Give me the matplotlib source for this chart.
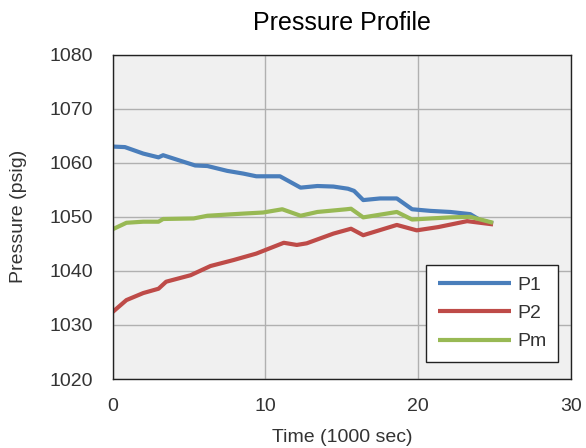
import matplotlib
matplotlib.use('Agg')
import matplotlib.pyplot as plt

# values (time in 1000 s, pressure in psig)
t_p1 = [0, 0.8, 2.0, 3.0, 3.3, 4.4, 5.4, 6.2, 7.5, 8.55, 9.4, 10.95, 11.4, 12.3,
        13.4, 14.45, 15.4, 15.8, 16.4, 17.5, 18.6, 19.6, 20.8, 22.1, 23.4, 24.05, 24.9]
p1 = [1063.0, 1062.9, 1061.7, 1061.0, 1061.4, 1060.4, 1059.5, 1059.4, 1058.5, 1058.0,
      1057.5, 1057.5, 1056.8, 1055.4, 1055.7, 1055.6, 1055.2, 1054.8, 1053.1, 1053.4,
      1053.4, 1051.4, 1051.1, 1050.9, 1050.5, 1049.4, 1048.8]

t_p2 = [0, 0.9, 2.0, 3.0, 3.5, 5.1, 6.4, 7.9, 9.4, 11.2, 12.05, 12.7, 14.45, 15.6,
        16.4, 18.6, 19.9, 21.3, 23.2, 24.9]
p2 = [1032.4, 1034.6, 1035.9, 1036.7, 1038.0, 1039.2, 1040.9, 1042.0, 1043.2, 1045.2,
      1044.8, 1045.1, 1046.9, 1047.8, 1046.6, 1048.5, 1047.5, 1048.1, 1049.2, 1048.6]

t_pm = [0, 0.9, 2.0, 3.0, 3.3, 5.3, 6.2, 8.55, 9.85, 11.1, 12.3, 13.4, 15.3, 15.6,
        16.4, 18.6, 19.6, 20.8, 22.1, 23.4, 24.9]
pm = [1047.7, 1048.9, 1049.1, 1049.1, 1049.6, 1049.7, 1050.2, 1050.6, 1050.8, 1051.4,
      1050.2, 1050.9, 1051.4, 1051.5, 1049.9, 1050.9, 1049.5, 1049.7, 1049.9, 1050.0, 1048.9]

plt.rcParams['font.family'] = ['Liberation Sans', 'DejaVu Sans']

fig = plt.figure(figsize=(5.86, 4.48), dpi=100)
ax = fig.add_axes([0.1923, 0.154, 0.7821, 0.724])
ax.set_facecolor('#f0f0f0')

ax.plot(t_p1, p1, color='#4a7ebb', lw=3, label='P1', solid_capstyle='butt')
ax.plot(t_p2, p2, color='#be4b48', lw=3, label='P2', solid_capstyle='butt')
ax.plot(t_pm, pm, color='#98b954', lw=3, label='Pm', solid_capstyle='butt')

ax.set_xlim(0, 30)
ax.set_ylim(1020, 1080)
ax.set_xticks([0, 10, 20, 30])
ax.set_yticks(range(1020, 1081, 10))
ax.grid(True, color='#b0b0b0', lw=1)
ax.set_axisbelow(True)
ax.tick_params(length=0, pad=14, labelsize=14, labelcolor='#333333')
for s in ax.spines.values():
    s.set_color('#222222')
    s.set_linewidth(1)

ax.set_title('Pressure Profile', fontsize=18, pad=18)
ax.set_xlabel('Time (1000 sec)', fontsize=14, color='#333333', labelpad=10)
ax.set_ylabel('Pressure (psig)', fontsize=14, color='#333333', labelpad=16)

leg = ax.legend(loc='lower right', bbox_to_anchor=(0.972, 0.052), fontsize=14,
                fancybox=False, framealpha=1, edgecolor='#222222',
                handlelength=3.8, handletextpad=0.3, labelspacing=0.55,
                borderpad=0.6, borderaxespad=0)
leg.get_frame().set_linewidth(1)
for txt in leg.get_texts():
    txt.set_color('#333333')

fig.savefig('out.png', dpi=100)
